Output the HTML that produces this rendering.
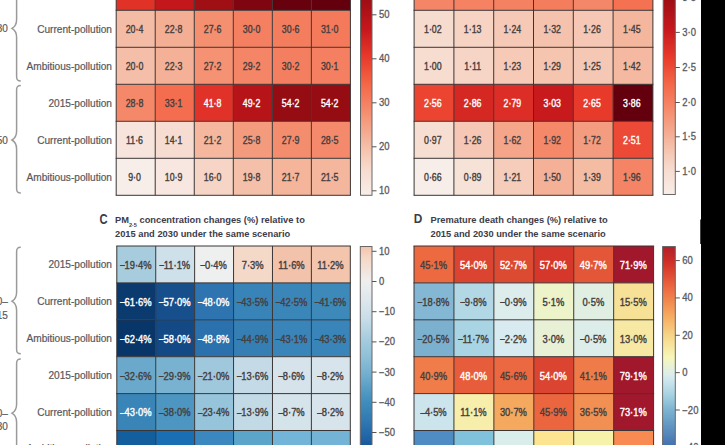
<!DOCTYPE html>
<html><head><meta charset="utf-8"><style>
html,body{margin:0;padding:0;background:#fff;width:725px;height:445px;overflow:hidden;position:relative}
svg{display:block}
#w{position:absolute;left:-20px;top:-20px;width:765px;height:485px;background:#fff}
</style></head><body><div id="w"><svg width="765" height="485" viewBox="-20 -20 765 485" font-family='"Liberation Sans", sans-serif'><defs><linearGradient id="ga" x1="0" y1="0" x2="0" y2="1"><stop offset="0.000" stop-color="#64000d"/><stop offset="0.025" stop-color="#70030e"/><stop offset="0.050" stop-color="#7c0610"/><stop offset="0.075" stop-color="#880911"/><stop offset="0.100" stop-color="#940c13"/><stop offset="0.125" stop-color="#a00f14"/><stop offset="0.150" stop-color="#a71016"/><stop offset="0.175" stop-color="#af1217"/><stop offset="0.200" stop-color="#b61419"/><stop offset="0.225" stop-color="#be161b"/><stop offset="0.250" stop-color="#c5171c"/><stop offset="0.275" stop-color="#cc1e1f"/><stop offset="0.300" stop-color="#d32522"/><stop offset="0.325" stop-color="#da2c25"/><stop offset="0.350" stop-color="#e13228"/><stop offset="0.375" stop-color="#e8392b"/><stop offset="0.400" stop-color="#ea4230"/><stop offset="0.425" stop-color="#ec4b36"/><stop offset="0.450" stop-color="#ef553c"/><stop offset="0.475" stop-color="#f15e42"/><stop offset="0.500" stop-color="#f36748"/><stop offset="0.525" stop-color="#f46f50"/><stop offset="0.550" stop-color="#f47657"/><stop offset="0.575" stop-color="#f47e5f"/><stop offset="0.600" stop-color="#f48667"/><stop offset="0.625" stop-color="#f48e6f"/><stop offset="0.650" stop-color="#f49678"/><stop offset="0.675" stop-color="#f49e81"/><stop offset="0.700" stop-color="#f4a58a"/><stop offset="0.725" stop-color="#f4ad93"/><stop offset="0.750" stop-color="#f4b59c"/><stop offset="0.775" stop-color="#f5bda6"/><stop offset="0.800" stop-color="#f5c4af"/><stop offset="0.825" stop-color="#f6cbb9"/><stop offset="0.850" stop-color="#f6d2c2"/><stop offset="0.875" stop-color="#f6d9cc"/><stop offset="0.900" stop-color="#f7ddd2"/><stop offset="0.925" stop-color="#f7e1d7"/><stop offset="0.950" stop-color="#f7e6dd"/><stop offset="0.975" stop-color="#f7eae3"/><stop offset="1.000" stop-color="#f7eee9"/></linearGradient><linearGradient id="gb" x1="0" y1="0" x2="0" y2="1"><stop offset="0.000" stop-color="#64000d"/><stop offset="0.025" stop-color="#70030e"/><stop offset="0.050" stop-color="#7c0610"/><stop offset="0.075" stop-color="#880911"/><stop offset="0.100" stop-color="#940c13"/><stop offset="0.125" stop-color="#a00f14"/><stop offset="0.150" stop-color="#a71016"/><stop offset="0.175" stop-color="#af1217"/><stop offset="0.200" stop-color="#b61419"/><stop offset="0.225" stop-color="#be161b"/><stop offset="0.250" stop-color="#c5171c"/><stop offset="0.275" stop-color="#cc1e1f"/><stop offset="0.300" stop-color="#d32522"/><stop offset="0.325" stop-color="#da2c25"/><stop offset="0.350" stop-color="#e13228"/><stop offset="0.375" stop-color="#e8392b"/><stop offset="0.400" stop-color="#ea4230"/><stop offset="0.425" stop-color="#ec4b36"/><stop offset="0.450" stop-color="#ef553c"/><stop offset="0.475" stop-color="#f15e42"/><stop offset="0.500" stop-color="#f36748"/><stop offset="0.525" stop-color="#f46f50"/><stop offset="0.550" stop-color="#f47657"/><stop offset="0.575" stop-color="#f47e5f"/><stop offset="0.600" stop-color="#f48667"/><stop offset="0.625" stop-color="#f48e6f"/><stop offset="0.650" stop-color="#f49678"/><stop offset="0.675" stop-color="#f49e81"/><stop offset="0.700" stop-color="#f4a58a"/><stop offset="0.725" stop-color="#f4ad93"/><stop offset="0.750" stop-color="#f4b59c"/><stop offset="0.775" stop-color="#f5bda6"/><stop offset="0.800" stop-color="#f5c4af"/><stop offset="0.825" stop-color="#f6cbb9"/><stop offset="0.850" stop-color="#f6d2c2"/><stop offset="0.875" stop-color="#f6d9cc"/><stop offset="0.900" stop-color="#f7ddd2"/><stop offset="0.925" stop-color="#f7e1d7"/><stop offset="0.950" stop-color="#f7e6dd"/><stop offset="0.975" stop-color="#f7eae3"/><stop offset="1.000" stop-color="#f7eee9"/></linearGradient><linearGradient id="gc" x1="0" y1="0" x2="0" y2="1"><stop offset="0.000" stop-color="#f2c2aa"/><stop offset="0.025" stop-color="#f4ceb8"/><stop offset="0.050" stop-color="#f5d7c5"/><stop offset="0.075" stop-color="#f4ddcf"/><stop offset="0.100" stop-color="#f2e2d9"/><stop offset="0.125" stop-color="#f1e8e3"/><stop offset="0.150" stop-color="#f0eeed"/><stop offset="0.175" stop-color="#ebeeef"/><stop offset="0.200" stop-color="#e6ebee"/><stop offset="0.225" stop-color="#e0e8ed"/><stop offset="0.250" stop-color="#dbe6ec"/><stop offset="0.275" stop-color="#d5e3eb"/><stop offset="0.300" stop-color="#cfe0ea"/><stop offset="0.325" stop-color="#c9dde8"/><stop offset="0.350" stop-color="#bfd8e6"/><stop offset="0.375" stop-color="#b6d4e3"/><stop offset="0.400" stop-color="#accfe0"/><stop offset="0.425" stop-color="#a4cade"/><stop offset="0.450" stop-color="#9cc7dc"/><stop offset="0.475" stop-color="#95c3d9"/><stop offset="0.500" stop-color="#8ebfd7"/><stop offset="0.525" stop-color="#85b9d4"/><stop offset="0.550" stop-color="#7cb4d1"/><stop offset="0.575" stop-color="#72aece"/><stop offset="0.600" stop-color="#69a8cb"/><stop offset="0.625" stop-color="#5ea1c7"/><stop offset="0.650" stop-color="#549ac4"/><stop offset="0.675" stop-color="#4994c0"/><stop offset="0.700" stop-color="#408dbc"/><stop offset="0.725" stop-color="#3b87b9"/><stop offset="0.750" stop-color="#3781b6"/><stop offset="0.775" stop-color="#327bb3"/><stop offset="0.800" stop-color="#2e75b0"/><stop offset="0.825" stop-color="#286eac"/><stop offset="0.850" stop-color="#2367a9"/><stop offset="0.875" stop-color="#1e5fa2"/><stop offset="0.900" stop-color="#1a5796"/><stop offset="0.925" stop-color="#154e8a"/><stop offset="0.950" stop-color="#11467f"/><stop offset="0.975" stop-color="#0d3d73"/><stop offset="1.000" stop-color="#093669"/></linearGradient><linearGradient id="gd" x1="0" y1="0" x2="0" y2="1"><stop offset="0.000" stop-color="#b2202a"/><stop offset="0.025" stop-color="#bc2529"/><stop offset="0.050" stop-color="#c72a27"/><stop offset="0.075" stop-color="#d23127"/><stop offset="0.100" stop-color="#d83e2d"/><stop offset="0.125" stop-color="#de4a33"/><stop offset="0.150" stop-color="#e45738"/><stop offset="0.175" stop-color="#ea633e"/><stop offset="0.200" stop-color="#ee7044"/><stop offset="0.225" stop-color="#ef7d4a"/><stop offset="0.250" stop-color="#f18a50"/><stop offset="0.275" stop-color="#f39756"/><stop offset="0.300" stop-color="#f5a45c"/><stop offset="0.325" stop-color="#f6b165"/><stop offset="0.350" stop-color="#f6bd71"/><stop offset="0.375" stop-color="#f6c87c"/><stop offset="0.400" stop-color="#f6d487"/><stop offset="0.425" stop-color="#f7de92"/><stop offset="0.450" stop-color="#f7e69f"/><stop offset="0.475" stop-color="#f7efac"/><stop offset="0.500" stop-color="#f7f7ba"/><stop offset="0.525" stop-color="#eef4cb"/><stop offset="0.550" stop-color="#e5f0db"/><stop offset="0.575" stop-color="#dcedec"/><stop offset="0.600" stop-color="#cfe7ee"/><stop offset="0.625" stop-color="#c0dfe9"/><stop offset="0.650" stop-color="#b1d8e5"/><stop offset="0.675" stop-color="#a2d0e0"/><stop offset="0.700" stop-color="#93c3da"/><stop offset="0.725" stop-color="#84b7d3"/><stop offset="0.750" stop-color="#77adcd"/><stop offset="0.775" stop-color="#6da4c9"/><stop offset="0.800" stop-color="#6499c3"/><stop offset="0.825" stop-color="#5c8fbe"/><stop offset="0.850" stop-color="#5385b9"/><stop offset="0.875" stop-color="#4a7ab3"/><stop offset="0.900" stop-color="#4270ae"/><stop offset="0.925" stop-color="#3f64a8"/><stop offset="0.950" stop-color="#3b59a2"/><stop offset="0.975" stop-color="#374d9d"/><stop offset="1.000" stop-color="#344297"/></linearGradient></defs><g><rect x="-20" y="-20" width="765" height="485" fill="#fff"/><rect x="116.20" y="-26.70" width="39.03" height="37.00" fill="#e13228"/><rect x="155.23" y="-26.70" width="39.03" height="37.00" fill="#c3171c"/><rect x="194.27" y="-26.70" width="39.03" height="37.00" fill="#a00f14"/><rect x="233.30" y="-26.70" width="39.03" height="37.00" fill="#7f0610"/><rect x="272.33" y="-26.70" width="39.03" height="37.00" fill="#67010d"/><rect x="311.37" y="-26.70" width="39.03" height="37.00" fill="#64000d"/><rect x="116.20" y="10.30" width="39.03" height="37.00" fill="#f5bca5"/><rect x="155.23" y="10.30" width="39.03" height="37.00" fill="#f4ae93"/><rect x="194.27" y="10.30" width="39.03" height="37.00" fill="#f48f70"/><rect x="233.30" y="10.30" width="39.03" height="37.00" fill="#f48061"/><rect x="272.33" y="10.30" width="39.03" height="37.00" fill="#f47d5e"/><rect x="311.37" y="10.30" width="39.03" height="37.00" fill="#f47a5b"/><rect x="116.20" y="47.30" width="39.03" height="37.00" fill="#f5bea8"/><rect x="155.23" y="47.30" width="39.03" height="37.00" fill="#f4b197"/><rect x="194.27" y="47.30" width="39.03" height="37.00" fill="#f49273"/><rect x="233.30" y="47.30" width="39.03" height="37.00" fill="#f48566"/><rect x="272.33" y="47.30" width="39.03" height="37.00" fill="#f47f60"/><rect x="311.37" y="47.30" width="39.03" height="37.00" fill="#f48061"/><rect x="116.20" y="84.30" width="39.03" height="37.00" fill="#f48869"/><rect x="155.23" y="84.30" width="39.03" height="37.00" fill="#f46d4e"/><rect x="194.27" y="84.30" width="39.03" height="37.00" fill="#e03228"/><rect x="233.30" y="84.30" width="39.03" height="37.00" fill="#b61419"/><rect x="272.33" y="84.30" width="39.03" height="37.00" fill="#950c13"/><rect x="311.37" y="84.30" width="39.03" height="37.00" fill="#950c13"/><rect x="116.20" y="121.30" width="39.03" height="37.00" fill="#f7e5dd"/><rect x="155.23" y="121.30" width="39.03" height="37.00" fill="#f7ddd1"/><rect x="194.27" y="121.30" width="39.03" height="37.00" fill="#f5b89f"/><rect x="233.30" y="121.30" width="39.03" height="37.00" fill="#f49b7e"/><rect x="272.33" y="121.30" width="39.03" height="37.00" fill="#f48d6e"/><rect x="311.37" y="121.30" width="39.03" height="37.00" fill="#f48a6b"/><rect x="116.20" y="158.30" width="39.03" height="37.00" fill="#f7eee9"/><rect x="155.23" y="158.30" width="39.03" height="37.00" fill="#f7e7e0"/><rect x="194.27" y="158.30" width="39.03" height="37.00" fill="#f6d5c6"/><rect x="233.30" y="158.30" width="39.03" height="37.00" fill="#f5c0aa"/><rect x="272.33" y="158.30" width="39.03" height="37.00" fill="#f4b59b"/><rect x="311.37" y="158.30" width="39.03" height="37.00" fill="#f4b69d"/><line x1="116.20" y1="-26.70" x2="116.20" y2="195.30" stroke="#3a3535" stroke-width="1"/><line x1="155.23" y1="-26.70" x2="155.23" y2="195.30" stroke="#3a3535" stroke-width="1"/><line x1="194.27" y1="-26.70" x2="194.27" y2="195.30" stroke="#3a3535" stroke-width="1"/><line x1="233.30" y1="-26.70" x2="233.30" y2="195.30" stroke="#3a3535" stroke-width="1"/><line x1="272.33" y1="-26.70" x2="272.33" y2="195.30" stroke="#3a3535" stroke-width="1"/><line x1="311.37" y1="-26.70" x2="311.37" y2="195.30" stroke="#3a3535" stroke-width="1"/><line x1="350.40" y1="-26.70" x2="350.40" y2="195.30" stroke="#3a3535" stroke-width="1"/><line x1="115.70" y1="-26.70" x2="350.90" y2="-26.70" stroke="#3a3535" stroke-width="1"/><line x1="115.70" y1="10.30" x2="350.90" y2="10.30" stroke="#3a3535" stroke-width="1"/><line x1="115.70" y1="47.30" x2="350.90" y2="47.30" stroke="#3a3535" stroke-width="1"/><line x1="115.70" y1="84.30" x2="350.90" y2="84.30" stroke="#3a3535" stroke-width="1"/><line x1="115.70" y1="121.30" x2="350.90" y2="121.30" stroke="#3a3535" stroke-width="1"/><line x1="115.70" y1="158.30" x2="350.90" y2="158.30" stroke="#3a3535" stroke-width="1"/><line x1="115.70" y1="195.30" x2="350.90" y2="195.30" stroke="#3a3535" stroke-width="1"/><text transform="translate(134.52,33.20) scale(0.88,1)" font-size="10" fill="#463f3f" stroke="#463f3f" stroke-width="0.38" text-anchor="middle">20·4</text><text transform="translate(173.55,33.20) scale(0.88,1)" font-size="10" fill="#463f3f" stroke="#463f3f" stroke-width="0.38" text-anchor="middle">22·8</text><text transform="translate(212.58,33.20) scale(0.88,1)" font-size="10" fill="#463f3f" stroke="#463f3f" stroke-width="0.38" text-anchor="middle">27·6</text><text transform="translate(251.62,33.20) scale(0.88,1)" font-size="10" fill="#463f3f" stroke="#463f3f" stroke-width="0.38" text-anchor="middle">30·0</text><text transform="translate(290.65,33.20) scale(0.88,1)" font-size="10" fill="#463f3f" stroke="#463f3f" stroke-width="0.38" text-anchor="middle">30·6</text><text transform="translate(329.68,33.20) scale(0.88,1)" font-size="10" fill="#463f3f" stroke="#463f3f" stroke-width="0.38" text-anchor="middle">31·0</text><text transform="translate(134.52,70.20) scale(0.88,1)" font-size="10" fill="#463f3f" stroke="#463f3f" stroke-width="0.38" text-anchor="middle">20·0</text><text transform="translate(173.55,70.20) scale(0.88,1)" font-size="10" fill="#463f3f" stroke="#463f3f" stroke-width="0.38" text-anchor="middle">22·3</text><text transform="translate(212.58,70.20) scale(0.88,1)" font-size="10" fill="#463f3f" stroke="#463f3f" stroke-width="0.38" text-anchor="middle">27·2</text><text transform="translate(251.62,70.20) scale(0.88,1)" font-size="10" fill="#463f3f" stroke="#463f3f" stroke-width="0.38" text-anchor="middle">29·2</text><text transform="translate(290.65,70.20) scale(0.88,1)" font-size="10" fill="#463f3f" stroke="#463f3f" stroke-width="0.38" text-anchor="middle">30·2</text><text transform="translate(329.68,70.20) scale(0.88,1)" font-size="10" fill="#463f3f" stroke="#463f3f" stroke-width="0.38" text-anchor="middle">30·1</text><text transform="translate(134.52,107.20) scale(0.88,1)" font-size="10" fill="#463f3f" stroke="#463f3f" stroke-width="0.38" text-anchor="middle">28·8</text><text transform="translate(173.55,107.20) scale(0.88,1)" font-size="10" fill="#463f3f" stroke="#463f3f" stroke-width="0.38" text-anchor="middle">33·1</text><text transform="translate(212.58,107.20) scale(0.88,1)" font-size="10" fill="#ffffff" stroke="#ffffff" stroke-width="0.38" text-anchor="middle">41·8</text><text transform="translate(251.62,107.20) scale(0.88,1)" font-size="10" fill="#ffffff" stroke="#ffffff" stroke-width="0.38" text-anchor="middle">49·2</text><text transform="translate(290.65,107.20) scale(0.88,1)" font-size="10" fill="#ffffff" stroke="#ffffff" stroke-width="0.38" text-anchor="middle">54·2</text><text transform="translate(329.68,107.20) scale(0.88,1)" font-size="10" fill="#ffffff" stroke="#ffffff" stroke-width="0.38" text-anchor="middle">54·2</text><text transform="translate(134.52,144.20) scale(0.88,1)" font-size="10" fill="#463f3f" stroke="#463f3f" stroke-width="0.38" text-anchor="middle">11·6</text><text transform="translate(173.55,144.20) scale(0.88,1)" font-size="10" fill="#463f3f" stroke="#463f3f" stroke-width="0.38" text-anchor="middle">14·1</text><text transform="translate(212.58,144.20) scale(0.88,1)" font-size="10" fill="#463f3f" stroke="#463f3f" stroke-width="0.38" text-anchor="middle">21·2</text><text transform="translate(251.62,144.20) scale(0.88,1)" font-size="10" fill="#463f3f" stroke="#463f3f" stroke-width="0.38" text-anchor="middle">25·8</text><text transform="translate(290.65,144.20) scale(0.88,1)" font-size="10" fill="#463f3f" stroke="#463f3f" stroke-width="0.38" text-anchor="middle">27·9</text><text transform="translate(329.68,144.20) scale(0.88,1)" font-size="10" fill="#463f3f" stroke="#463f3f" stroke-width="0.38" text-anchor="middle">28·5</text><text transform="translate(134.52,181.20) scale(0.88,1)" font-size="10" fill="#463f3f" stroke="#463f3f" stroke-width="0.38" text-anchor="middle">9·0</text><text transform="translate(173.55,181.20) scale(0.88,1)" font-size="10" fill="#463f3f" stroke="#463f3f" stroke-width="0.38" text-anchor="middle">10·9</text><text transform="translate(212.58,181.20) scale(0.88,1)" font-size="10" fill="#463f3f" stroke="#463f3f" stroke-width="0.38" text-anchor="middle">16·0</text><text transform="translate(251.62,181.20) scale(0.88,1)" font-size="10" fill="#463f3f" stroke="#463f3f" stroke-width="0.38" text-anchor="middle">19·8</text><text transform="translate(290.65,181.20) scale(0.88,1)" font-size="10" fill="#463f3f" stroke="#463f3f" stroke-width="0.38" text-anchor="middle">21·7</text><text transform="translate(329.68,181.20) scale(0.88,1)" font-size="10" fill="#463f3f" stroke="#463f3f" stroke-width="0.38" text-anchor="middle">21·5</text><rect x="414.10" y="-26.70" width="39.80" height="37.00" fill="#f48667"/><rect x="453.90" y="-26.70" width="39.80" height="37.00" fill="#f48263"/><rect x="493.70" y="-26.70" width="39.80" height="37.00" fill="#f48162"/><rect x="533.50" y="-26.70" width="39.80" height="37.00" fill="#f47d5e"/><rect x="573.30" y="-26.70" width="39.80" height="37.00" fill="#f48768"/><rect x="613.10" y="-26.70" width="39.80" height="37.00" fill="#f47152"/><rect x="414.10" y="10.30" width="39.80" height="37.00" fill="#f6dbcf"/><rect x="453.90" y="10.30" width="39.80" height="37.00" fill="#f6d3c3"/><rect x="493.70" y="10.30" width="39.80" height="37.00" fill="#f6c9b6"/><rect x="533.50" y="10.30" width="39.80" height="37.00" fill="#f5c2ad"/><rect x="573.30" y="10.30" width="39.80" height="37.00" fill="#f5c7b4"/><rect x="613.10" y="10.30" width="39.80" height="37.00" fill="#f4b69d"/><rect x="414.10" y="47.30" width="39.80" height="37.00" fill="#f7dcd0"/><rect x="453.90" y="47.30" width="39.80" height="37.00" fill="#f6d5c6"/><rect x="493.70" y="47.30" width="39.80" height="37.00" fill="#f6cab7"/><rect x="533.50" y="47.30" width="39.80" height="37.00" fill="#f5c5b0"/><rect x="573.30" y="47.30" width="39.80" height="37.00" fill="#f5c8b5"/><rect x="613.10" y="47.30" width="39.80" height="37.00" fill="#f5b9a1"/><rect x="414.10" y="84.30" width="39.80" height="37.00" fill="#eb4532"/><rect x="453.90" y="84.30" width="39.80" height="37.00" fill="#d62823"/><rect x="493.70" y="84.30" width="39.80" height="37.00" fill="#dc2e26"/><rect x="533.50" y="84.30" width="39.80" height="37.00" fill="#c81a1d"/><rect x="573.30" y="84.30" width="39.80" height="37.00" fill="#e83a2b"/><rect x="613.10" y="84.30" width="39.80" height="37.00" fill="#64000d"/><rect x="414.10" y="121.30" width="39.80" height="37.00" fill="#f7ded2"/><rect x="453.90" y="121.30" width="39.80" height="37.00" fill="#f5c7b4"/><rect x="493.70" y="121.30" width="39.80" height="37.00" fill="#f4a58a"/><rect x="533.50" y="121.30" width="39.80" height="37.00" fill="#f48869"/><rect x="573.30" y="121.30" width="39.80" height="37.00" fill="#f49c7f"/><rect x="613.10" y="121.30" width="39.80" height="37.00" fill="#ec4a36"/><rect x="414.10" y="158.30" width="39.80" height="37.00" fill="#f7eee9"/><rect x="453.90" y="158.30" width="39.80" height="37.00" fill="#f7e2d8"/><rect x="493.70" y="158.30" width="39.80" height="37.00" fill="#f6ccba"/><rect x="533.50" y="158.30" width="39.80" height="37.00" fill="#f4b198"/><rect x="573.30" y="158.30" width="39.80" height="37.00" fill="#f5bca4"/><rect x="613.10" y="158.30" width="39.80" height="37.00" fill="#f48465"/><line x1="414.10" y1="-26.70" x2="414.10" y2="195.30" stroke="#3a3535" stroke-width="1"/><line x1="453.90" y1="-26.70" x2="453.90" y2="195.30" stroke="#3a3535" stroke-width="1"/><line x1="493.70" y1="-26.70" x2="493.70" y2="195.30" stroke="#3a3535" stroke-width="1"/><line x1="533.50" y1="-26.70" x2="533.50" y2="195.30" stroke="#3a3535" stroke-width="1"/><line x1="573.30" y1="-26.70" x2="573.30" y2="195.30" stroke="#3a3535" stroke-width="1"/><line x1="613.10" y1="-26.70" x2="613.10" y2="195.30" stroke="#3a3535" stroke-width="1"/><line x1="652.90" y1="-26.70" x2="652.90" y2="195.30" stroke="#3a3535" stroke-width="1"/><line x1="413.60" y1="-26.70" x2="653.40" y2="-26.70" stroke="#3a3535" stroke-width="1"/><line x1="413.60" y1="10.30" x2="653.40" y2="10.30" stroke="#3a3535" stroke-width="1"/><line x1="413.60" y1="47.30" x2="653.40" y2="47.30" stroke="#3a3535" stroke-width="1"/><line x1="413.60" y1="84.30" x2="653.40" y2="84.30" stroke="#3a3535" stroke-width="1"/><line x1="413.60" y1="121.30" x2="653.40" y2="121.30" stroke="#3a3535" stroke-width="1"/><line x1="413.60" y1="158.30" x2="653.40" y2="158.30" stroke="#3a3535" stroke-width="1"/><line x1="413.60" y1="195.30" x2="653.40" y2="195.30" stroke="#3a3535" stroke-width="1"/><text transform="translate(432.80,33.20) scale(0.88,1)" font-size="10" fill="#463f3f" stroke="#463f3f" stroke-width="0.38" text-anchor="middle">1·02</text><text transform="translate(472.60,33.20) scale(0.88,1)" font-size="10" fill="#463f3f" stroke="#463f3f" stroke-width="0.38" text-anchor="middle">1·13</text><text transform="translate(512.40,33.20) scale(0.88,1)" font-size="10" fill="#463f3f" stroke="#463f3f" stroke-width="0.38" text-anchor="middle">1·24</text><text transform="translate(552.20,33.20) scale(0.88,1)" font-size="10" fill="#463f3f" stroke="#463f3f" stroke-width="0.38" text-anchor="middle">1·32</text><text transform="translate(592.00,33.20) scale(0.88,1)" font-size="10" fill="#463f3f" stroke="#463f3f" stroke-width="0.38" text-anchor="middle">1·26</text><text transform="translate(631.80,33.20) scale(0.88,1)" font-size="10" fill="#463f3f" stroke="#463f3f" stroke-width="0.38" text-anchor="middle">1·45</text><text transform="translate(432.80,70.20) scale(0.88,1)" font-size="10" fill="#463f3f" stroke="#463f3f" stroke-width="0.38" text-anchor="middle">1·00</text><text transform="translate(472.60,70.20) scale(0.88,1)" font-size="10" fill="#463f3f" stroke="#463f3f" stroke-width="0.38" text-anchor="middle">1·11</text><text transform="translate(512.40,70.20) scale(0.88,1)" font-size="10" fill="#463f3f" stroke="#463f3f" stroke-width="0.38" text-anchor="middle">1·23</text><text transform="translate(552.20,70.20) scale(0.88,1)" font-size="10" fill="#463f3f" stroke="#463f3f" stroke-width="0.38" text-anchor="middle">1·29</text><text transform="translate(592.00,70.20) scale(0.88,1)" font-size="10" fill="#463f3f" stroke="#463f3f" stroke-width="0.38" text-anchor="middle">1·25</text><text transform="translate(631.80,70.20) scale(0.88,1)" font-size="10" fill="#463f3f" stroke="#463f3f" stroke-width="0.38" text-anchor="middle">1·42</text><text transform="translate(432.80,107.20) scale(0.88,1)" font-size="10" fill="#ffffff" stroke="#ffffff" stroke-width="0.38" text-anchor="middle">2·56</text><text transform="translate(472.60,107.20) scale(0.88,1)" font-size="10" fill="#ffffff" stroke="#ffffff" stroke-width="0.38" text-anchor="middle">2·86</text><text transform="translate(512.40,107.20) scale(0.88,1)" font-size="10" fill="#ffffff" stroke="#ffffff" stroke-width="0.38" text-anchor="middle">2·79</text><text transform="translate(552.20,107.20) scale(0.88,1)" font-size="10" fill="#ffffff" stroke="#ffffff" stroke-width="0.38" text-anchor="middle">3·03</text><text transform="translate(592.00,107.20) scale(0.88,1)" font-size="10" fill="#ffffff" stroke="#ffffff" stroke-width="0.38" text-anchor="middle">2·65</text><text transform="translate(631.80,107.20) scale(0.88,1)" font-size="10" fill="#ffffff" stroke="#ffffff" stroke-width="0.38" text-anchor="middle">3·86</text><text transform="translate(432.80,144.20) scale(0.88,1)" font-size="10" fill="#463f3f" stroke="#463f3f" stroke-width="0.38" text-anchor="middle">0·97</text><text transform="translate(472.60,144.20) scale(0.88,1)" font-size="10" fill="#463f3f" stroke="#463f3f" stroke-width="0.38" text-anchor="middle">1·26</text><text transform="translate(512.40,144.20) scale(0.88,1)" font-size="10" fill="#463f3f" stroke="#463f3f" stroke-width="0.38" text-anchor="middle">1·62</text><text transform="translate(552.20,144.20) scale(0.88,1)" font-size="10" fill="#463f3f" stroke="#463f3f" stroke-width="0.38" text-anchor="middle">1·92</text><text transform="translate(592.00,144.20) scale(0.88,1)" font-size="10" fill="#463f3f" stroke="#463f3f" stroke-width="0.38" text-anchor="middle">1·72</text><text transform="translate(631.80,144.20) scale(0.88,1)" font-size="10" fill="#ffffff" stroke="#ffffff" stroke-width="0.38" text-anchor="middle">2·51</text><text transform="translate(432.80,181.20) scale(0.88,1)" font-size="10" fill="#463f3f" stroke="#463f3f" stroke-width="0.38" text-anchor="middle">0·66</text><text transform="translate(472.60,181.20) scale(0.88,1)" font-size="10" fill="#463f3f" stroke="#463f3f" stroke-width="0.38" text-anchor="middle">0·89</text><text transform="translate(512.40,181.20) scale(0.88,1)" font-size="10" fill="#463f3f" stroke="#463f3f" stroke-width="0.38" text-anchor="middle">1·21</text><text transform="translate(552.20,181.20) scale(0.88,1)" font-size="10" fill="#463f3f" stroke="#463f3f" stroke-width="0.38" text-anchor="middle">1·50</text><text transform="translate(592.00,181.20) scale(0.88,1)" font-size="10" fill="#463f3f" stroke="#463f3f" stroke-width="0.38" text-anchor="middle">1·39</text><text transform="translate(631.80,181.20) scale(0.88,1)" font-size="10" fill="#463f3f" stroke="#463f3f" stroke-width="0.38" text-anchor="middle">1·96</text><rect x="116.80" y="246.00" width="38.92" height="36.90" fill="#a6ccde"/><rect x="155.72" y="246.00" width="38.92" height="36.90" fill="#cee0e9"/><rect x="194.63" y="246.00" width="38.92" height="36.90" fill="#eeefef"/><rect x="233.55" y="246.00" width="38.92" height="36.90" fill="#f5d9c8"/><rect x="272.47" y="246.00" width="38.92" height="36.90" fill="#f2c2aa"/><rect x="311.38" y="246.00" width="38.92" height="36.90" fill="#f3c5ad"/><rect x="116.80" y="282.90" width="38.92" height="36.90" fill="#0b3a6e"/><rect x="155.72" y="282.90" width="38.92" height="36.90" fill="#164f8b"/><rect x="194.63" y="282.90" width="38.92" height="36.90" fill="#2d74b0"/><rect x="233.55" y="282.90" width="38.92" height="36.90" fill="#3883b7"/><rect x="272.47" y="282.90" width="38.92" height="36.90" fill="#3b86b9"/><rect x="311.38" y="282.90" width="38.92" height="36.90" fill="#3d89ba"/><rect x="116.80" y="319.80" width="38.92" height="36.90" fill="#093669"/><rect x="155.72" y="319.80" width="38.92" height="36.90" fill="#134a85"/><rect x="194.63" y="319.80" width="38.92" height="36.90" fill="#2b71ae"/><rect x="233.55" y="319.80" width="38.92" height="36.90" fill="#357fb5"/><rect x="272.47" y="319.80" width="38.92" height="36.90" fill="#3984b8"/><rect x="311.38" y="319.80" width="38.92" height="36.90" fill="#3984b8"/><rect x="116.80" y="356.70" width="38.92" height="36.90" fill="#6ba9cc"/><rect x="155.72" y="356.70" width="38.92" height="36.90" fill="#78b2d0"/><rect x="194.63" y="356.70" width="38.92" height="36.90" fill="#a0c8dd"/><rect x="233.55" y="356.70" width="38.92" height="36.90" fill="#c4dbe7"/><rect x="272.47" y="356.70" width="38.92" height="36.90" fill="#d6e3eb"/><rect x="311.38" y="356.70" width="38.92" height="36.90" fill="#d7e4eb"/><rect x="116.80" y="393.60" width="38.92" height="36.90" fill="#3a85b8"/><rect x="155.72" y="393.60" width="38.92" height="36.90" fill="#4c96c1"/><rect x="194.63" y="393.60" width="38.92" height="36.90" fill="#96c4da"/><rect x="233.55" y="393.60" width="38.92" height="36.90" fill="#c2dae6"/><rect x="272.47" y="393.60" width="38.92" height="36.90" fill="#d5e3eb"/><rect x="311.38" y="393.60" width="38.92" height="36.90" fill="#d7e4eb"/><rect x="116.80" y="430.50" width="38.92" height="36.90" fill="#135e9c"/><rect x="155.72" y="430.50" width="38.92" height="36.90" fill="#1a6eb4"/><rect x="194.63" y="430.50" width="38.92" height="36.90" fill="#3a88bf"/><rect x="233.55" y="430.50" width="38.92" height="36.90" fill="#5ba5cb"/><rect x="272.47" y="430.50" width="38.92" height="36.90" fill="#73b5d8"/><rect x="311.38" y="430.50" width="38.92" height="36.90" fill="#72b3d6"/><line x1="116.80" y1="246.00" x2="116.80" y2="467.40" stroke="#3a3535" stroke-width="1"/><line x1="155.72" y1="246.00" x2="155.72" y2="467.40" stroke="#3a3535" stroke-width="1"/><line x1="194.63" y1="246.00" x2="194.63" y2="467.40" stroke="#3a3535" stroke-width="1"/><line x1="233.55" y1="246.00" x2="233.55" y2="467.40" stroke="#3a3535" stroke-width="1"/><line x1="272.47" y1="246.00" x2="272.47" y2="467.40" stroke="#3a3535" stroke-width="1"/><line x1="311.38" y1="246.00" x2="311.38" y2="467.40" stroke="#3a3535" stroke-width="1"/><line x1="350.30" y1="246.00" x2="350.30" y2="467.40" stroke="#3a3535" stroke-width="1"/><line x1="116.30" y1="246.00" x2="350.80" y2="246.00" stroke="#3a3535" stroke-width="1"/><line x1="116.30" y1="282.90" x2="350.80" y2="282.90" stroke="#3a3535" stroke-width="1"/><line x1="116.30" y1="319.80" x2="350.80" y2="319.80" stroke="#3a3535" stroke-width="1"/><line x1="116.30" y1="356.70" x2="350.80" y2="356.70" stroke="#3a3535" stroke-width="1"/><line x1="116.30" y1="393.60" x2="350.80" y2="393.60" stroke="#3a3535" stroke-width="1"/><line x1="116.30" y1="430.50" x2="350.80" y2="430.50" stroke="#3a3535" stroke-width="1"/><line x1="116.30" y1="467.40" x2="350.80" y2="467.40" stroke="#3a3535" stroke-width="1"/><text transform="translate(135.86,268.85) scale(0.935,1)" font-size="10" fill="#463f3f" stroke="#463f3f" stroke-width="0.38" text-anchor="middle"><tspan font-size="8.5" dy="-0.6">–</tspan><tspan dy="0.6">19·4</tspan>%</text><text transform="translate(174.78,268.85) scale(0.935,1)" font-size="10" fill="#463f3f" stroke="#463f3f" stroke-width="0.38" text-anchor="middle"><tspan font-size="8.5" dy="-0.6">–</tspan><tspan dy="0.6">11·1</tspan>%</text><text transform="translate(213.69,268.85) scale(0.935,1)" font-size="10" fill="#463f3f" stroke="#463f3f" stroke-width="0.38" text-anchor="middle"><tspan font-size="8.5" dy="-0.6">–</tspan><tspan dy="0.6">0·4</tspan>%</text><text transform="translate(252.61,268.85) scale(0.935,1)" font-size="10" fill="#463f3f" stroke="#463f3f" stroke-width="0.38" text-anchor="middle">7·3%</text><text transform="translate(291.53,268.85) scale(0.935,1)" font-size="10" fill="#463f3f" stroke="#463f3f" stroke-width="0.38" text-anchor="middle">11·6%</text><text transform="translate(330.44,268.85) scale(0.935,1)" font-size="10" fill="#463f3f" stroke="#463f3f" stroke-width="0.38" text-anchor="middle">11·2%</text><text transform="translate(135.86,305.75) scale(0.935,1)" font-size="10" fill="#ffffff" stroke="#ffffff" stroke-width="0.38" text-anchor="middle"><tspan font-size="8.5" dy="-0.6">–</tspan><tspan dy="0.6">61·6</tspan>%</text><text transform="translate(174.78,305.75) scale(0.935,1)" font-size="10" fill="#ffffff" stroke="#ffffff" stroke-width="0.38" text-anchor="middle"><tspan font-size="8.5" dy="-0.6">–</tspan><tspan dy="0.6">57·0</tspan>%</text><text transform="translate(213.69,305.75) scale(0.935,1)" font-size="10" fill="#ffffff" stroke="#ffffff" stroke-width="0.38" text-anchor="middle"><tspan font-size="8.5" dy="-0.6">–</tspan><tspan dy="0.6">48·0</tspan>%</text><text transform="translate(252.61,305.75) scale(0.935,1)" font-size="10" fill="#463f3f" stroke="#463f3f" stroke-width="0.38" text-anchor="middle"><tspan font-size="8.5" dy="-0.6">–</tspan><tspan dy="0.6">43·5</tspan>%</text><text transform="translate(291.53,305.75) scale(0.935,1)" font-size="10" fill="#463f3f" stroke="#463f3f" stroke-width="0.38" text-anchor="middle"><tspan font-size="8.5" dy="-0.6">–</tspan><tspan dy="0.6">42·5</tspan>%</text><text transform="translate(330.44,305.75) scale(0.935,1)" font-size="10" fill="#463f3f" stroke="#463f3f" stroke-width="0.38" text-anchor="middle"><tspan font-size="8.5" dy="-0.6">–</tspan><tspan dy="0.6">41·6</tspan>%</text><text transform="translate(135.86,342.65) scale(0.935,1)" font-size="10" fill="#ffffff" stroke="#ffffff" stroke-width="0.38" text-anchor="middle"><tspan font-size="8.5" dy="-0.6">–</tspan><tspan dy="0.6">62·4</tspan>%</text><text transform="translate(174.78,342.65) scale(0.935,1)" font-size="10" fill="#ffffff" stroke="#ffffff" stroke-width="0.38" text-anchor="middle"><tspan font-size="8.5" dy="-0.6">–</tspan><tspan dy="0.6">58·0</tspan>%</text><text transform="translate(213.69,342.65) scale(0.935,1)" font-size="10" fill="#ffffff" stroke="#ffffff" stroke-width="0.38" text-anchor="middle"><tspan font-size="8.5" dy="-0.6">–</tspan><tspan dy="0.6">48·8</tspan>%</text><text transform="translate(252.61,342.65) scale(0.935,1)" font-size="10" fill="#463f3f" stroke="#463f3f" stroke-width="0.38" text-anchor="middle"><tspan font-size="8.5" dy="-0.6">–</tspan><tspan dy="0.6">44·9</tspan>%</text><text transform="translate(291.53,342.65) scale(0.935,1)" font-size="10" fill="#463f3f" stroke="#463f3f" stroke-width="0.38" text-anchor="middle"><tspan font-size="8.5" dy="-0.6">–</tspan><tspan dy="0.6">43·1</tspan>%</text><text transform="translate(330.44,342.65) scale(0.935,1)" font-size="10" fill="#463f3f" stroke="#463f3f" stroke-width="0.38" text-anchor="middle"><tspan font-size="8.5" dy="-0.6">–</tspan><tspan dy="0.6">43·3</tspan>%</text><text transform="translate(135.86,379.55) scale(0.935,1)" font-size="10" fill="#463f3f" stroke="#463f3f" stroke-width="0.38" text-anchor="middle"><tspan font-size="8.5" dy="-0.6">–</tspan><tspan dy="0.6">32·6</tspan>%</text><text transform="translate(174.78,379.55) scale(0.935,1)" font-size="10" fill="#463f3f" stroke="#463f3f" stroke-width="0.38" text-anchor="middle"><tspan font-size="8.5" dy="-0.6">–</tspan><tspan dy="0.6">29·9</tspan>%</text><text transform="translate(213.69,379.55) scale(0.935,1)" font-size="10" fill="#463f3f" stroke="#463f3f" stroke-width="0.38" text-anchor="middle"><tspan font-size="8.5" dy="-0.6">–</tspan><tspan dy="0.6">21·0</tspan>%</text><text transform="translate(252.61,379.55) scale(0.935,1)" font-size="10" fill="#463f3f" stroke="#463f3f" stroke-width="0.38" text-anchor="middle"><tspan font-size="8.5" dy="-0.6">–</tspan><tspan dy="0.6">13·6</tspan>%</text><text transform="translate(291.53,379.55) scale(0.935,1)" font-size="10" fill="#463f3f" stroke="#463f3f" stroke-width="0.38" text-anchor="middle"><tspan font-size="8.5" dy="-0.6">–</tspan><tspan dy="0.6">8·6</tspan>%</text><text transform="translate(330.44,379.55) scale(0.935,1)" font-size="10" fill="#463f3f" stroke="#463f3f" stroke-width="0.38" text-anchor="middle"><tspan font-size="8.5" dy="-0.6">–</tspan><tspan dy="0.6">8·2</tspan>%</text><text transform="translate(135.86,416.45) scale(0.935,1)" font-size="10" fill="#ffffff" stroke="#ffffff" stroke-width="0.38" text-anchor="middle"><tspan font-size="8.5" dy="-0.6">–</tspan><tspan dy="0.6">43·0</tspan>%</text><text transform="translate(174.78,416.45) scale(0.935,1)" font-size="10" fill="#463f3f" stroke="#463f3f" stroke-width="0.38" text-anchor="middle"><tspan font-size="8.5" dy="-0.6">–</tspan><tspan dy="0.6">38·0</tspan>%</text><text transform="translate(213.69,416.45) scale(0.935,1)" font-size="10" fill="#463f3f" stroke="#463f3f" stroke-width="0.38" text-anchor="middle"><tspan font-size="8.5" dy="-0.6">–</tspan><tspan dy="0.6">23·4</tspan>%</text><text transform="translate(252.61,416.45) scale(0.935,1)" font-size="10" fill="#463f3f" stroke="#463f3f" stroke-width="0.38" text-anchor="middle"><tspan font-size="8.5" dy="-0.6">–</tspan><tspan dy="0.6">13·9</tspan>%</text><text transform="translate(291.53,416.45) scale(0.935,1)" font-size="10" fill="#463f3f" stroke="#463f3f" stroke-width="0.38" text-anchor="middle"><tspan font-size="8.5" dy="-0.6">–</tspan><tspan dy="0.6">8·7</tspan>%</text><text transform="translate(330.44,416.45) scale(0.935,1)" font-size="10" fill="#463f3f" stroke="#463f3f" stroke-width="0.38" text-anchor="middle"><tspan font-size="8.5" dy="-0.6">–</tspan><tspan dy="0.6">8·2</tspan>%</text><rect x="414.00" y="246.00" width="39.93" height="36.90" fill="#ed6a41"/><rect x="453.93" y="246.00" width="39.93" height="36.90" fill="#db4430"/><rect x="493.87" y="246.00" width="39.93" height="36.90" fill="#dd4a32"/><rect x="533.80" y="246.00" width="39.93" height="36.90" fill="#d5372a"/><rect x="573.73" y="246.00" width="39.93" height="36.90" fill="#e35638"/><rect x="613.67" y="246.00" width="39.93" height="36.90" fill="#a1182d"/><rect x="414.00" y="282.90" width="39.93" height="36.90" fill="#84b7d3"/><rect x="453.93" y="282.90" width="39.93" height="36.90" fill="#b2d8e5"/><rect x="493.87" y="282.90" width="39.93" height="36.90" fill="#dcedeb"/><rect x="533.80" y="282.90" width="39.93" height="36.90" fill="#eef4ca"/><rect x="573.73" y="282.90" width="39.93" height="36.90" fill="#e1efe3"/><rect x="613.67" y="282.90" width="39.93" height="36.90" fill="#f7e197"/><rect x="414.00" y="319.80" width="39.93" height="36.90" fill="#7bb0cf"/><rect x="453.93" y="319.80" width="39.93" height="36.90" fill="#a9d4e3"/><rect x="493.87" y="319.80" width="39.93" height="36.90" fill="#d8ebf0"/><rect x="533.80" y="319.80" width="39.93" height="36.90" fill="#e8f1d5"/><rect x="573.73" y="319.80" width="39.93" height="36.90" fill="#ddede9"/><rect x="613.67" y="319.80" width="39.93" height="36.90" fill="#f7e8a3"/><rect x="414.00" y="356.70" width="39.93" height="36.90" fill="#ef7c49"/><rect x="453.93" y="356.70" width="39.93" height="36.90" fill="#e75d3b"/><rect x="493.87" y="356.70" width="39.93" height="36.90" fill="#ec6840"/><rect x="533.80" y="356.70" width="39.93" height="36.90" fill="#db4430"/><rect x="573.73" y="356.70" width="39.93" height="36.90" fill="#ef7b49"/><rect x="613.67" y="356.70" width="39.93" height="36.90" fill="#a1182d"/><rect x="414.00" y="393.60" width="39.93" height="36.90" fill="#cce5ed"/><rect x="453.93" y="393.60" width="39.93" height="36.90" fill="#f7eeab"/><rect x="493.87" y="393.60" width="39.93" height="36.90" fill="#f5a95e"/><rect x="533.80" y="393.60" width="39.93" height="36.90" fill="#eb663f"/><rect x="573.73" y="393.60" width="39.93" height="36.90" fill="#f28f52"/><rect x="613.67" y="393.60" width="39.93" height="36.90" fill="#a1182d"/><rect x="414.00" y="430.50" width="39.93" height="36.90" fill="#4f8cc4"/><rect x="453.93" y="430.50" width="39.93" height="36.90" fill="#80c1dc"/><rect x="493.87" y="430.50" width="39.93" height="36.90" fill="#d9eeea"/><rect x="533.80" y="430.50" width="39.93" height="36.90" fill="#fde490"/><rect x="573.73" y="430.50" width="39.93" height="36.90" fill="#f7f2a9"/><rect x="613.67" y="430.50" width="39.93" height="36.90" fill="#f98a52"/><line x1="414.00" y1="246.00" x2="414.00" y2="467.40" stroke="#3a3535" stroke-width="1"/><line x1="453.93" y1="246.00" x2="453.93" y2="467.40" stroke="#3a3535" stroke-width="1"/><line x1="493.87" y1="246.00" x2="493.87" y2="467.40" stroke="#3a3535" stroke-width="1"/><line x1="533.80" y1="246.00" x2="533.80" y2="467.40" stroke="#3a3535" stroke-width="1"/><line x1="573.73" y1="246.00" x2="573.73" y2="467.40" stroke="#3a3535" stroke-width="1"/><line x1="613.67" y1="246.00" x2="613.67" y2="467.40" stroke="#3a3535" stroke-width="1"/><line x1="653.60" y1="246.00" x2="653.60" y2="467.40" stroke="#3a3535" stroke-width="1"/><line x1="413.50" y1="246.00" x2="654.10" y2="246.00" stroke="#3a3535" stroke-width="1"/><line x1="413.50" y1="282.90" x2="654.10" y2="282.90" stroke="#3a3535" stroke-width="1"/><line x1="413.50" y1="319.80" x2="654.10" y2="319.80" stroke="#3a3535" stroke-width="1"/><line x1="413.50" y1="356.70" x2="654.10" y2="356.70" stroke="#3a3535" stroke-width="1"/><line x1="413.50" y1="393.60" x2="654.10" y2="393.60" stroke="#3a3535" stroke-width="1"/><line x1="413.50" y1="430.50" x2="654.10" y2="430.50" stroke="#3a3535" stroke-width="1"/><line x1="413.50" y1="467.40" x2="654.10" y2="467.40" stroke="#3a3535" stroke-width="1"/><text transform="translate(433.57,268.85) scale(0.935,1)" font-size="10" fill="#463f3f" stroke="#463f3f" stroke-width="0.38" text-anchor="middle">45·1%</text><text transform="translate(473.50,268.85) scale(0.935,1)" font-size="10" fill="#ffffff" stroke="#ffffff" stroke-width="0.38" text-anchor="middle">54·0%</text><text transform="translate(513.43,268.85) scale(0.935,1)" font-size="10" fill="#ffffff" stroke="#ffffff" stroke-width="0.38" text-anchor="middle">52·7%</text><text transform="translate(553.37,268.85) scale(0.935,1)" font-size="10" fill="#ffffff" stroke="#ffffff" stroke-width="0.38" text-anchor="middle">57·0%</text><text transform="translate(593.30,268.85) scale(0.935,1)" font-size="10" fill="#ffffff" stroke="#ffffff" stroke-width="0.38" text-anchor="middle">49·7%</text><text transform="translate(633.23,268.85) scale(0.935,1)" font-size="10" fill="#ffffff" stroke="#ffffff" stroke-width="0.38" text-anchor="middle">71·9%</text><text transform="translate(433.57,305.75) scale(0.935,1)" font-size="10" fill="#463f3f" stroke="#463f3f" stroke-width="0.38" text-anchor="middle"><tspan font-size="8.5" dy="-0.6">–</tspan><tspan dy="0.6">18·8</tspan>%</text><text transform="translate(473.50,305.75) scale(0.935,1)" font-size="10" fill="#463f3f" stroke="#463f3f" stroke-width="0.38" text-anchor="middle"><tspan font-size="8.5" dy="-0.6">–</tspan><tspan dy="0.6">9·8</tspan>%</text><text transform="translate(513.43,305.75) scale(0.935,1)" font-size="10" fill="#463f3f" stroke="#463f3f" stroke-width="0.38" text-anchor="middle"><tspan font-size="8.5" dy="-0.6">–</tspan><tspan dy="0.6">0·9</tspan>%</text><text transform="translate(553.37,305.75) scale(0.935,1)" font-size="10" fill="#463f3f" stroke="#463f3f" stroke-width="0.38" text-anchor="middle">5·1%</text><text transform="translate(593.30,305.75) scale(0.935,1)" font-size="10" fill="#463f3f" stroke="#463f3f" stroke-width="0.38" text-anchor="middle">0·5%</text><text transform="translate(633.23,305.75) scale(0.935,1)" font-size="10" fill="#463f3f" stroke="#463f3f" stroke-width="0.38" text-anchor="middle">15·5%</text><text transform="translate(433.57,342.65) scale(0.935,1)" font-size="10" fill="#463f3f" stroke="#463f3f" stroke-width="0.38" text-anchor="middle"><tspan font-size="8.5" dy="-0.6">–</tspan><tspan dy="0.6">20·5</tspan>%</text><text transform="translate(473.50,342.65) scale(0.935,1)" font-size="10" fill="#463f3f" stroke="#463f3f" stroke-width="0.38" text-anchor="middle"><tspan font-size="8.5" dy="-0.6">–</tspan><tspan dy="0.6">11·7</tspan>%</text><text transform="translate(513.43,342.65) scale(0.935,1)" font-size="10" fill="#463f3f" stroke="#463f3f" stroke-width="0.38" text-anchor="middle"><tspan font-size="8.5" dy="-0.6">–</tspan><tspan dy="0.6">2·2</tspan>%</text><text transform="translate(553.37,342.65) scale(0.935,1)" font-size="10" fill="#463f3f" stroke="#463f3f" stroke-width="0.38" text-anchor="middle">3·0%</text><text transform="translate(593.30,342.65) scale(0.935,1)" font-size="10" fill="#463f3f" stroke="#463f3f" stroke-width="0.38" text-anchor="middle"><tspan font-size="8.5" dy="-0.6">–</tspan><tspan dy="0.6">0·5</tspan>%</text><text transform="translate(633.23,342.65) scale(0.935,1)" font-size="10" fill="#463f3f" stroke="#463f3f" stroke-width="0.38" text-anchor="middle">13·0%</text><text transform="translate(433.57,379.55) scale(0.935,1)" font-size="10" fill="#463f3f" stroke="#463f3f" stroke-width="0.38" text-anchor="middle">40·9%</text><text transform="translate(473.50,379.55) scale(0.935,1)" font-size="10" fill="#ffffff" stroke="#ffffff" stroke-width="0.38" text-anchor="middle">48·0%</text><text transform="translate(513.43,379.55) scale(0.935,1)" font-size="10" fill="#463f3f" stroke="#463f3f" stroke-width="0.38" text-anchor="middle">45·6%</text><text transform="translate(553.37,379.55) scale(0.935,1)" font-size="10" fill="#ffffff" stroke="#ffffff" stroke-width="0.38" text-anchor="middle">54·0%</text><text transform="translate(593.30,379.55) scale(0.935,1)" font-size="10" fill="#463f3f" stroke="#463f3f" stroke-width="0.38" text-anchor="middle">41·1%</text><text transform="translate(633.23,379.55) scale(0.935,1)" font-size="10" fill="#ffffff" stroke="#ffffff" stroke-width="0.38" text-anchor="middle">79·1%</text><text transform="translate(433.57,416.45) scale(0.935,1)" font-size="10" fill="#463f3f" stroke="#463f3f" stroke-width="0.38" text-anchor="middle"><tspan font-size="8.5" dy="-0.6">–</tspan><tspan dy="0.6">4·5</tspan>%</text><text transform="translate(473.50,416.45) scale(0.935,1)" font-size="10" fill="#463f3f" stroke="#463f3f" stroke-width="0.38" text-anchor="middle">11·1%</text><text transform="translate(513.43,416.45) scale(0.935,1)" font-size="10" fill="#463f3f" stroke="#463f3f" stroke-width="0.38" text-anchor="middle">30·7%</text><text transform="translate(553.37,416.45) scale(0.935,1)" font-size="10" fill="#463f3f" stroke="#463f3f" stroke-width="0.38" text-anchor="middle">45·9%</text><text transform="translate(593.30,416.45) scale(0.935,1)" font-size="10" fill="#463f3f" stroke="#463f3f" stroke-width="0.38" text-anchor="middle">36·5%</text><text transform="translate(633.23,416.45) scale(0.935,1)" font-size="10" fill="#ffffff" stroke="#ffffff" stroke-width="0.38" text-anchor="middle">73·1%</text><rect x="360.5" y="-26.7" width="11.5" height="222.0" fill="url(#ga)" stroke="#6a6666" stroke-width="1"/><line x1="372" y1="14.8" x2="376.5" y2="14.8" stroke="#555" stroke-width="1"/><text transform="translate(379.0,18.3) scale(0.95,1)" font-size="10" fill="#5a5a5f" stroke="#5a5a5f" stroke-width="0.3">50</text><line x1="372" y1="58.8" x2="376.5" y2="58.8" stroke="#555" stroke-width="1"/><text transform="translate(379.0,62.3) scale(0.95,1)" font-size="10" fill="#5a5a5f" stroke="#5a5a5f" stroke-width="0.3">40</text><line x1="372" y1="102.8" x2="376.5" y2="102.8" stroke="#555" stroke-width="1"/><text transform="translate(379.0,106.3) scale(0.95,1)" font-size="10" fill="#5a5a5f" stroke="#5a5a5f" stroke-width="0.3">30</text><line x1="372" y1="146.8" x2="376.5" y2="146.8" stroke="#555" stroke-width="1"/><text transform="translate(379.0,150.3) scale(0.95,1)" font-size="10" fill="#5a5a5f" stroke="#5a5a5f" stroke-width="0.3">20</text><line x1="372" y1="190.8" x2="376.5" y2="190.8" stroke="#555" stroke-width="1"/><text transform="translate(379.0,194.3) scale(0.95,1)" font-size="10" fill="#5a5a5f" stroke="#5a5a5f" stroke-width="0.3">10</text><rect x="663.2" y="-26.7" width="12.099999999999909" height="221.2" fill="url(#gb)" stroke="#6a6666" stroke-width="1"/><line x1="675.3" y1="-2.2" x2="679.8" y2="-2.2" stroke="#555" stroke-width="1"/><text transform="translate(682.3,1.2999999999999998) scale(0.95,1)" font-size="10" fill="#5a5a5f" stroke="#5a5a5f" stroke-width="0.3">3·5</text><line x1="675.3" y1="32.4" x2="679.8" y2="32.4" stroke="#555" stroke-width="1"/><text transform="translate(682.3,35.9) scale(0.95,1)" font-size="10" fill="#5a5a5f" stroke="#5a5a5f" stroke-width="0.3">3·0</text><line x1="675.3" y1="67.5" x2="679.8" y2="67.5" stroke="#555" stroke-width="1"/><text transform="translate(682.3,71.0) scale(0.95,1)" font-size="10" fill="#5a5a5f" stroke="#5a5a5f" stroke-width="0.3">2·5</text><line x1="675.3" y1="102.5" x2="679.8" y2="102.5" stroke="#555" stroke-width="1"/><text transform="translate(682.3,106.0) scale(0.95,1)" font-size="10" fill="#5a5a5f" stroke="#5a5a5f" stroke-width="0.3">2·0</text><line x1="675.3" y1="136.8" x2="679.8" y2="136.8" stroke="#555" stroke-width="1"/><text transform="translate(682.3,140.3) scale(0.95,1)" font-size="10" fill="#5a5a5f" stroke="#5a5a5f" stroke-width="0.3">1·5</text><line x1="675.3" y1="171.4" x2="679.8" y2="171.4" stroke="#555" stroke-width="1"/><text transform="translate(682.3,174.9) scale(0.95,1)" font-size="10" fill="#5a5a5f" stroke="#5a5a5f" stroke-width="0.3">1·0</text><rect x="360.3" y="246.5" width="11.699999999999989" height="222.0" fill="url(#gc)" stroke="#6a6666" stroke-width="1"/><line x1="372" y1="251.3" x2="376.5" y2="251.3" stroke="#555" stroke-width="1"/><text transform="translate(379.0,254.8) scale(0.95,1)" font-size="10" fill="#5a5a5f" stroke="#5a5a5f" stroke-width="0.3">10</text><line x1="372" y1="281.5" x2="376.5" y2="281.5" stroke="#555" stroke-width="1"/><text transform="translate(379.0,285.0) scale(0.95,1)" font-size="10" fill="#5a5a5f" stroke="#5a5a5f" stroke-width="0.3">0</text><line x1="372" y1="311.7" x2="376.5" y2="311.7" stroke="#555" stroke-width="1"/><text transform="translate(379.0,315.2) scale(0.95,1)" font-size="10" fill="#5a5a5f" stroke="#5a5a5f" stroke-width="0.3">−10</text><line x1="372" y1="341.9" x2="376.5" y2="341.9" stroke="#555" stroke-width="1"/><text transform="translate(379.0,345.4) scale(0.95,1)" font-size="10" fill="#5a5a5f" stroke="#5a5a5f" stroke-width="0.3">−20</text><line x1="372" y1="372.1" x2="376.5" y2="372.1" stroke="#555" stroke-width="1"/><text transform="translate(379.0,375.6) scale(0.95,1)" font-size="10" fill="#5a5a5f" stroke="#5a5a5f" stroke-width="0.3">−30</text><line x1="372" y1="402.3" x2="376.5" y2="402.3" stroke="#555" stroke-width="1"/><text transform="translate(379.0,405.8) scale(0.95,1)" font-size="10" fill="#5a5a5f" stroke="#5a5a5f" stroke-width="0.3">−40</text><line x1="372" y1="432.5" x2="376.5" y2="432.5" stroke="#555" stroke-width="1"/><text transform="translate(379.0,436.0) scale(0.95,1)" font-size="10" fill="#5a5a5f" stroke="#5a5a5f" stroke-width="0.3">−50</text><rect x="662.6" y="246.5" width="12.699999999999932" height="222.0" fill="url(#gd)" stroke="#6a6666" stroke-width="1"/><line x1="675.3" y1="260.6" x2="679.8" y2="260.6" stroke="#555" stroke-width="1"/><text transform="translate(682.3,264.1) scale(0.95,1)" font-size="10" fill="#5a5a5f" stroke="#5a5a5f" stroke-width="0.3">60</text><line x1="675.3" y1="297.95" x2="679.8" y2="297.95" stroke="#555" stroke-width="1"/><text transform="translate(682.3,301.45) scale(0.95,1)" font-size="10" fill="#5a5a5f" stroke="#5a5a5f" stroke-width="0.3">40</text><line x1="675.3" y1="335.3" x2="679.8" y2="335.3" stroke="#555" stroke-width="1"/><text transform="translate(682.3,338.8) scale(0.95,1)" font-size="10" fill="#5a5a5f" stroke="#5a5a5f" stroke-width="0.3">20</text><line x1="675.3" y1="372.65" x2="679.8" y2="372.65" stroke="#555" stroke-width="1"/><text transform="translate(682.3,376.15) scale(0.95,1)" font-size="10" fill="#5a5a5f" stroke="#5a5a5f" stroke-width="0.3">0</text><line x1="675.3" y1="410.0" x2="679.8" y2="410.0" stroke="#555" stroke-width="1"/><text transform="translate(682.3,413.5) scale(0.95,1)" font-size="10" fill="#5a5a5f" stroke="#5a5a5f" stroke-width="0.3">−20</text><line x1="675.3" y1="447.35" x2="679.8" y2="447.35" stroke="#555" stroke-width="1"/><text transform="translate(682.3,450.85) scale(0.95,1)" font-size="10" fill="#5a5a5f" stroke="#5a5a5f" stroke-width="0.3">−40</text><text x="112" y="-4.3999999999999995" font-size="10.15" fill="#58585c" text-anchor="end" font-weight="normal" stroke="#58585c" stroke-width="0.2" >2015-pollution</text><text x="112" y="267.95" font-size="10.15" fill="#58585c" text-anchor="end" font-weight="normal" stroke="#58585c" stroke-width="0.2" >2015-pollution</text><text x="112" y="32.6" font-size="10.15" fill="#58585c" text-anchor="end" font-weight="normal" stroke="#58585c" stroke-width="0.2" >Current-pollution</text><text x="112" y="304.85" font-size="10.15" fill="#58585c" text-anchor="end" font-weight="normal" stroke="#58585c" stroke-width="0.2" >Current-pollution</text><text x="112" y="69.6" font-size="10.15" fill="#58585c" text-anchor="end" font-weight="normal" stroke="#58585c" stroke-width="0.2" >Ambitious-pollution</text><text x="112" y="341.75" font-size="10.15" fill="#58585c" text-anchor="end" font-weight="normal" stroke="#58585c" stroke-width="0.2" >Ambitious-pollution</text><text x="112" y="106.6" font-size="10.15" fill="#58585c" text-anchor="end" font-weight="normal" stroke="#58585c" stroke-width="0.2" >2015-pollution</text><text x="112" y="378.65" font-size="10.15" fill="#58585c" text-anchor="end" font-weight="normal" stroke="#58585c" stroke-width="0.2" >2015-pollution</text><text x="112" y="143.60000000000002" font-size="10.15" fill="#58585c" text-anchor="end" font-weight="normal" stroke="#58585c" stroke-width="0.2" >Current-pollution</text><text x="112" y="415.54999999999995" font-size="10.15" fill="#58585c" text-anchor="end" font-weight="normal" stroke="#58585c" stroke-width="0.2" >Current-pollution</text><text x="112" y="180.60000000000002" font-size="10.15" fill="#58585c" text-anchor="end" font-weight="normal" stroke="#58585c" stroke-width="0.2" >Ambitious-pollution</text><text x="112" y="452.45" font-size="10.15" fill="#58585c" text-anchor="end" font-weight="normal" stroke="#58585c" stroke-width="0.2" >Ambitious-pollution</text><text x="7.8" y="32" font-size="10" fill="#5a5a5f" text-anchor="end" font-weight="normal" stroke="#5a5a5f" stroke-width="0.2" >2030</text><text x="7.8" y="143.5" font-size="10" fill="#5a5a5f" text-anchor="end" font-weight="normal" stroke="#5a5a5f" stroke-width="0.2" >2050</text><text x="7.8" y="305" font-size="10" fill="#5a5a5f" text-anchor="end" font-weight="normal" stroke="#5a5a5f" stroke-width="0.2" >2030–</text><text x="7.8" y="318.5" font-size="10" fill="#5a5a5f" text-anchor="end" font-weight="normal" stroke="#5a5a5f" stroke-width="0.2" >2015</text><text x="7.8" y="416.5" font-size="10" fill="#5a5a5f" text-anchor="end" font-weight="normal" stroke="#5a5a5f" stroke-width="0.2" >2050–</text><text x="7.8" y="430" font-size="10" fill="#5a5a5f" text-anchor="end" font-weight="normal" stroke="#5a5a5f" stroke-width="0.2" >2030</text><path d="M20.8,-25 C17.6,-25 16.6,-24 16.6,-20.5 L16.6,19.4 C16.6,24.4 14.8,26.799999999999997 12.0,28.4 C14.8,30.0 16.6,32.4 16.6,37.4 L16.6,76.5 C16.6,80 17.6,81 20.8,81" fill="none" stroke="#9a9a9a" stroke-width="1.5"/><path d="M20.8,85.5 C17.6,85.5 16.6,86.5 16.6,90.0 L16.6,131 C16.6,136 14.8,138.4 12.0,140 C14.8,141.6 16.6,144 16.6,149 L16.6,188.5 C16.6,192 17.6,193 20.8,193" fill="none" stroke="#9a9a9a" stroke-width="1.5"/><path d="M20.8,247.2 C17.6,247.2 16.6,248.2 16.6,251.7 L16.6,292.2 C16.6,297.2 14.8,299.59999999999997 12.0,301.2 C14.8,302.8 16.6,305.2 16.6,310.2 L16.6,349.3 C16.6,352.8 17.6,353.8 20.8,353.8" fill="none" stroke="#9a9a9a" stroke-width="1.5"/><path d="M20.8,359 C17.6,359 16.6,360 16.6,363.5 L16.6,404.2 C16.6,409.2 14.8,411.59999999999997 12.0,413.2 C14.8,414.8 16.6,417.2 16.6,422.2 L16.6,462.5 C16.6,466 17.6,467 20.8,467" fill="none" stroke="#9a9a9a" stroke-width="1.5"/><text transform="translate(99.6,223.8) scale(0.8,1)" font-size="14" font-weight="bold" fill="#3c3c4a">C</text><text x="115" y="223.4" font-size="9.3" font-weight="bold" fill="#3c3c4a">PM<tspan font-size="5.5" dy="3.2">2·5</tspan><tspan dy="-3.2"> concentration changes (%) relative to</tspan></text><text x="115" y="236.5" font-size="9.3" fill="#3c3c4a" text-anchor="start" font-weight="bold" >2015 and 2030 under the same scenario</text><text transform="translate(413.8,222.9) scale(0.88,1)" font-size="13.5" font-weight="bold" fill="#3c3c4a">D</text><text x="430.5" y="223.4" font-size="9.3" fill="#3c3c4a" text-anchor="start" font-weight="bold" >Premature death changes (%) relative to</text><text x="430.5" y="236.5" font-size="9.3" fill="#3c3c4a" text-anchor="start" font-weight="bold" >2015 and 2030 under the same scenario</text><rect x="701" y="-20" width="50" height="490" fill="#000"/><rect x="700" y="219.5" width="1" height="24.5" fill="#444"/></g></svg></div></body></html>
